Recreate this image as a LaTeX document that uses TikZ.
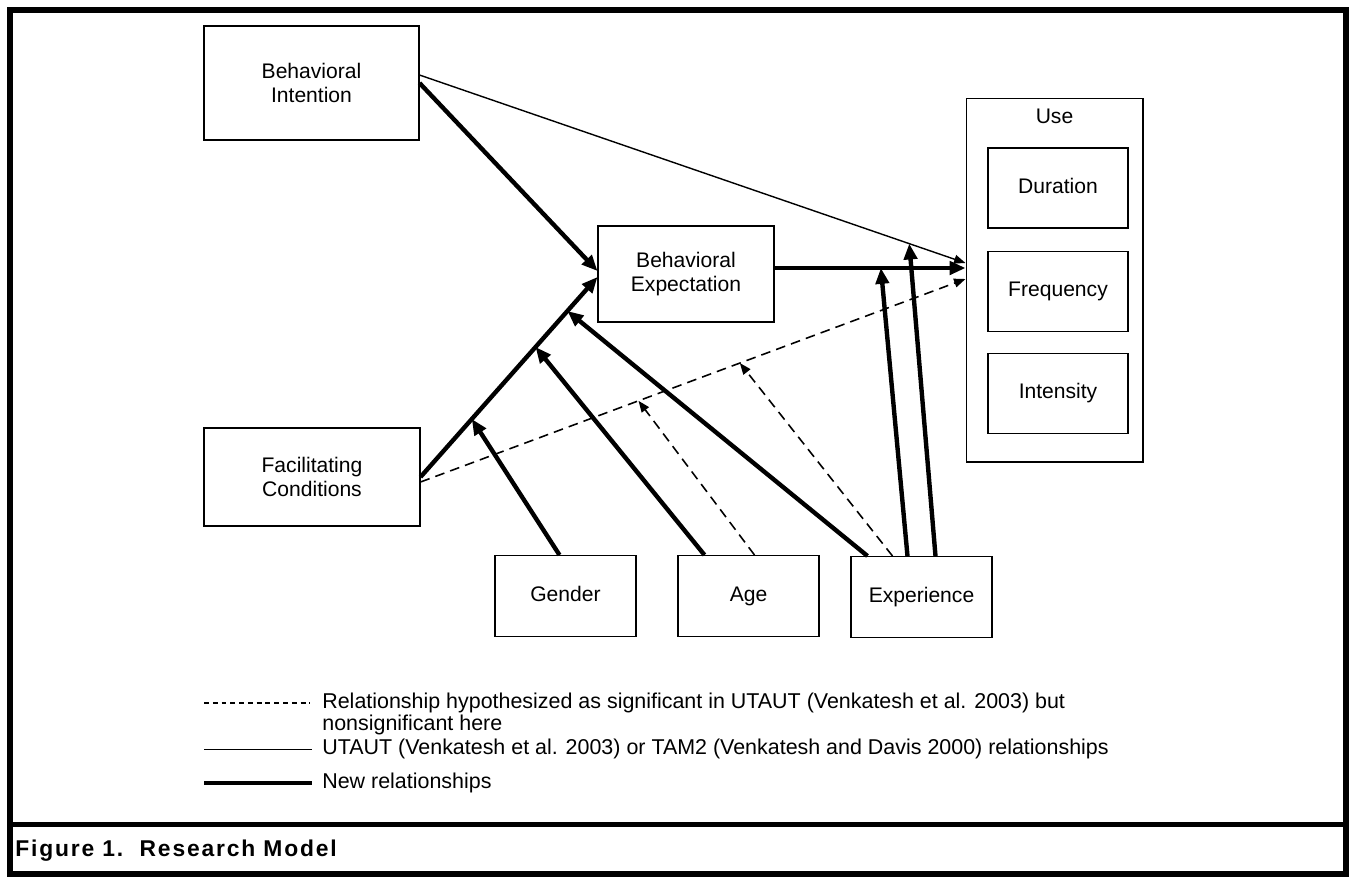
\documentclass[tikz,border=0pt]{standalone}
\usepackage{fontspec}
\setmainfont{Liberation Sans}
\newfontfamily\captionfont{Liberation Sans}[LetterSpace=8]
\usetikzlibrary{
    arrows.meta,
    calc,
    positioning,
}

\begin{document}
\begin{tikzpicture}[x=0.02cm,y=-0.02cm,>={Triangle[length=9pt,width=7.5pt]}]

    \tikzstyle{commonNode}=[draw=black, line width=0.6pt, align=center, inner sep=0pt, font=\fontsize{12}{14}\selectfont]
    \tikzstyle{construct}=[commonNode, rectangle]
    \tikzstyle{bigConstruct}=[construct, minimum width=4.30cm, minimum height=2.00cm]
    \tikzstyle{moderator}=[construct, text height=9pt, text depth=3pt, minimum width=2.82cm, minimum height=1.62cm]
    \tikzstyle{useMeasure}=[construct, text height=9pt, text depth=3pt, minimum width=2.80cm, minimum height=1.60cm]
    \tikzstyle{oldRel}=[line width=0.8pt, -{Triangle[length=6.5pt,width=5pt]}]
    \tikzstyle{newRel}=[line width=2.5pt, ->]
    \tikzstyle{nsRel}=[line width=0.9pt, dash pattern=on 5.5pt off 3.5pt, -{Triangle[length=6.5pt,width=5pt]}]
    \tikzstyle{legendText}=[inner sep=0pt, anchor=west, text height=9pt, text depth=3pt, font=\fontsize{12.2}{12.5}\selectfont]

    \useasboundingbox (0,0) rectangle (1349,877);

    % Frame and caption
    \draw [line width=3.4pt] (10,10) rectangle (1346,874);
    \draw [line width=2.8pt] (10,824.5) -- (1346,824.5);
    \node at (15,851) [anchor=west, inner sep=0pt, font=\captionfont\bfseries\fontsize{13}{15}\selectfont] (caption) {Figure 1.\ \ Research Model};

    \begin{scope}
        % Constructs
        \node at (311.5,83)  [bigConstruct, minimum height=2.28cm] (BI) {Behavioral\\Intention};
        \node at (686,274)   [construct, minimum width=3.52cm, minimum height=1.92cm] (BE) {Behavioral\\Expectation};
        \node at (312,477)   [bigConstruct, minimum width=4.32cm, minimum height=1.96cm] (FC) {Facilitating\\Conditions};

        % Use and its measures
        \node at (1054.5,280) [construct, minimum width=3.54cm, minimum height=7.28cm] (Use) {};
        \node [below=0.22cm of Use.north, inner sep=0pt, font=\fontsize{12}{14}\selectfont] (UseLabel) {Use};
        \node at (1058,188)   [useMeasure] (Dur)  {Duration};
        \node at (1058,291.5) [useMeasure] (Freq) {Frequency};
        \node at (1058,393.5) [useMeasure] (Int)  {Intensity};

        % Moderators
        \node at (565.5,596) [moderator] (Gender) {Gender};
        \node at (748.5,596) [moderator] (Age)    {Age};
        \node at (921.5,597) [moderator] (Exp)    {Experience};

        % Direct relationships
        \draw [oldRel] ($(BI.east)+(0,-8)$) -- ($(Use.west)+(0,-17)$);
        \draw [newRel] (BI.east) -- ($(BE.west)+(0,-3)$);
        \draw [newRel] ($(BE.east)+(0,-6)$) -- ($(BE.east -| Use.west)+(0,-6)$);
        \draw [newRel] (FC.east) -- ($(BE.west)+(0,3)$);
        \draw [nsRel]  ($(FC.east)+(0,5)$) -- ($(Use.west)+(0,-1)$);

        % Points hit by the moderating effects
        \path (FC.east) -- ($(BE.west)+(0,3)$)
            coordinate[pos=0.29] (fcbeG) coordinate[pos=0.65] (fcbeA) coordinate[pos=0.83] (fcbeE);
        \path ($(FC.east)+(0,5)$) -- ($(Use.west)+(0,-1)$)
            coordinate[pos=0.40] (fcuA) coordinate[pos=0.586] (fcuE);
        \path ($(BE.east)+(0,-6)$) -- ($(BE.east -| Use.west)+(0,-6)$)
            coordinate[pos=0.557] (beuE);
        \path ($(BI.east)+(0,-8)$) -- ($(Use.west)+(0,-17)$)
            coordinate[pos=0.897] (biuE);

        % Moderating effects
        \draw [newRel] ($(Gender.north west)+(65,0)$) -- (fcbeG);
        \draw [newRel] ($(Age.north west)+(27,0)$) -- (fcbeA);
        \draw [nsRel]  ($(Age.north west)+(77,0)$) -- (fcuA);
        \draw [newRel] ($(Exp.north west)+(17,0)$) -- (fcbeE);
        \draw [nsRel]  ($(Exp.north west)+(42,0)$) -- (fcuE);
        \draw [newRel] ($(Exp.north west)+(57,0)$) -- (beuE);
        \draw [newRel] ($(Exp.north west)+(85,0)$) -- (biuE);
    \end{scope}

    % Legend
    \coordinate (legX) at (204,0);
    \node at (322,703) [legendText] (legNs) {Relationship hypothesized as significant in UTAUT (Venkatesh et al. 2003) but};
    \node [legendText, below=0pt of legNs.south west, anchor=north west] (legNs2) {nonsignificant here};
    \node [legendText, below=0.05cm of legNs2.south west, anchor=north west] (legOld) {UTAUT (Venkatesh et al. 2003) or TAM2 (Venkatesh and Davis 2000) relationships};
    \node [legendText, below=0.25cm of legOld.south west, anchor=north west] (legNew) {New relationships};
    \draw [line width=0.6pt, dash pattern=on 2.8pt off 2.2pt] (legNs.west -| legX) -- ($(legNs.west)+(-12,0)$);
    \draw [line width=0.6pt] (legOld.west -| legX) -- ($(legOld.west)+(-10,0)$);
    \draw [line width=2.4pt] (legNew.west -| legX) -- ($(legNew.west)+(-10,0)$);

\end{tikzpicture}
\end{document}
